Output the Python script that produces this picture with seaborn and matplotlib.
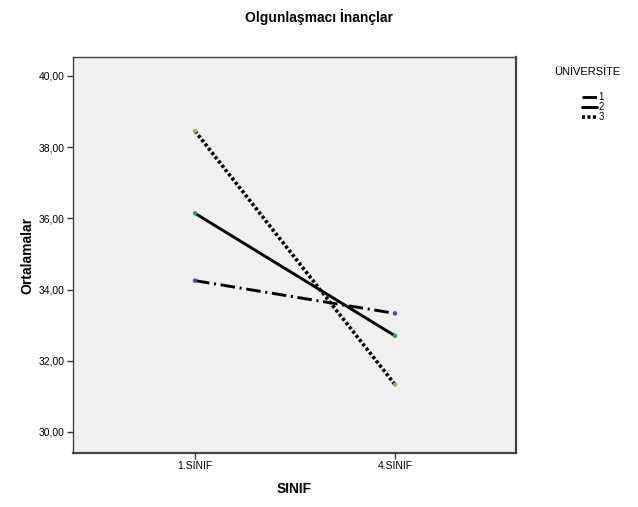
import matplotlib
matplotlib.use("Agg")
import matplotlib.pyplot as plt
import pandas as pd
import seaborn as sns

# data
sinif = ["1.SINIF", "4.SINIF"]
universite = ["1", "2", "3"]
uni1 = [34.25, 33.33]
uni2 = [36.14, 32.70]
uni3 = [38.45, 31.33]

sns.set_theme(style="white", rc={"text.color": "black", "axes.labelcolor": "black",
                                 "xtick.color": "black", "ytick.color": "black"})
plt.rcParams["font.family"] = ["Liberation Sans", "DejaVu Sans"]

df = pd.DataFrame({
    "SINIF": sinif * 3,
    "x": [0, 1] * 3,
    "UNI": [u for u in universite for _ in sinif],
    "Ortalama": uni1 + uni2 + uni3,
})

fig = plt.figure(figsize=(6.38, 5.07), dpi=100)
ax = fig.add_axes([0.1144, 0.1065, 0.6944, 0.7811])
ax.set_facecolor("#F0F0F0")

dashes = {"1": (5, 1.6, 0.7, 1.6), "2": "", "3": (0.85, 0.65)}
sns.lineplot(
    data=df, x="x", y="Ortalama", style="UNI", style_order=universite,
    dashes=dashes, color="black", linewidth=2.1, ax=ax, legend=False,
)
ax.lines[2].set_linewidth(2.6)
# SPSS-like coloured end markers
sns.scatterplot(
    data=df, x="x", y="Ortalama", hue="UNI", hue_order=universite,
    palette=["#3a4fa8", "#2aa84a", "#b0a46a"], s=10, linewidth=0,
    ax=ax, legend=False, zorder=5,
)

ax.set_xlim(-0.61, 1.605)
ax.set_ylim(29.41, 40.53)
ax.set_xticks([0, 1])
ax.set_xticklabels(sinif)
ax.set_yticks([30, 32, 34, 36, 38, 40])
ax.set_yticklabels([f"{v:.2f}".replace(".", ",") for v in [30, 32, 34, 36, 38, 40]])
ax.tick_params(axis="both", which="both", length=4, width=1, color="#333333",
               labelsize=7.5, pad=2, direction="out", bottom=True, left=True)
for side in ["left", "top"]:
    ax.spines[side].set_color("#444444")
    ax.spines[side].set_linewidth(1.0)
for side in ["right", "bottom"]:
    ax.spines[side].set_color("#444444")
    ax.spines[side].set_linewidth(1.6)

ax.set_xlabel("SINIF", fontsize=10, fontweight="bold", labelpad=8)
ax.set_ylabel("Ortalamalar", fontsize=10, fontweight="bold", labelpad=3)
fig.text(0.5, 0.966, "Olgunlaşmacı İnançlar", ha="center", va="center",
         fontsize=10, fontweight="bold")

fig.text(0.868, 0.858, "ÜNİVERSİTE", ha="left", va="center", fontsize=8)
handles = [
    plt.Line2D([], [], color="black", lw=2.1, dashes=dashes["1"]),
    plt.Line2D([], [], color="black", lw=2.1),
    plt.Line2D([], [], color="black", lw=2.6, dashes=dashes["3"]),
]
fig.legend(handles, universite, loc="upper left",
           bbox_to_anchor=(0.905, 0.828), frameon=False, fontsize=7,
           handlelength=1.5, handletextpad=0.15,
           labelspacing=0.0, borderpad=0)

fig.savefig("out.png", dpi=100)
